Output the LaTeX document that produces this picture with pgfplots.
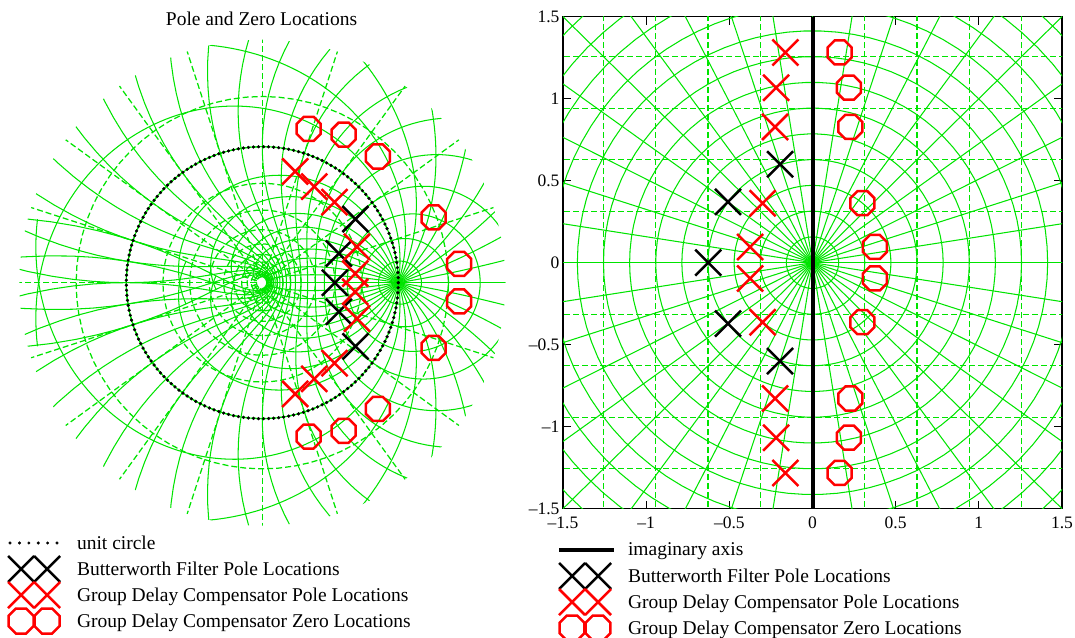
\documentclass[border=0pt]{standalone}
\usepackage{pgfplots}
\pgfplotsset{compat=1.18}
\usepackage{fontspec}
\setmainfont{Liberation Serif}
\definecolor{grn}{RGB}{0,228,0}
\definecolor{rd}{RGB}{255,0,0}
\pgfdeclareplotmark{oct}{%
  \pgfpathmoveto{\pgfpointpolar{22.5}{\pgfplotmarksize}}%
  \pgfpathlineto{\pgfpointpolar{67.5}{\pgfplotmarksize}}%
  \pgfpathlineto{\pgfpointpolar{112.5}{\pgfplotmarksize}}%
  \pgfpathlineto{\pgfpointpolar{157.5}{\pgfplotmarksize}}%
  \pgfpathlineto{\pgfpointpolar{202.5}{\pgfplotmarksize}}%
  \pgfpathlineto{\pgfpointpolar{247.5}{\pgfplotmarksize}}%
  \pgfpathlineto{\pgfpointpolar{292.5}{\pgfplotmarksize}}%
  \pgfpathlineto{\pgfpointpolar{337.5}{\pgfplotmarksize}}%
  \pgfpathclose
  \pgfusepathqstroke}
\tikzset{legfont/.style={font=\fontsize{19.5}{22}\selectfont}}
\pgfplotsset{
  gsolid/.style={grn, line width=1.05pt, forget plot},
  gdash/.style={grn, line width=1.25pt, dash pattern=on 6pt off 3pt, forget plot},
  bx/.style={black, only marks, mark=x, mark size=18.4pt, line width=2.5pt,
    legend image code/.code={\path[draw=none,fill=none] (0pt,-13pt) rectangle (69pt,13pt);
      \draw[black, line width=2.5pt] plot[only marks, mark=x, mark size=18.4pt] coordinates {(13pt,0pt) (39pt,0pt)};}},
  rx/.style={rd, only marks, mark=x, mark size=18.4pt, line width=2.5pt,
    legend image code/.code={\path[draw=none,fill=none] (0pt,-13pt) rectangle (69pt,13pt);
      \draw[rd, line width=2.5pt] plot[only marks, mark=x, mark size=18.4pt] coordinates {(13pt,0pt) (39pt,0pt)};}},
  ro/.style={rd, only marks, mark=oct, mark size=13pt, line width=2.5pt,
    legend image code/.code={\path[draw=none,fill=none] (0pt,-13pt) rectangle (69pt,13pt);
      \draw[rd, line width=2.5pt] plot[only marks, mark=oct, mark size=13.5pt] coordinates {(13pt,0pt) (39pt,0pt)};}},
}
\begin{document}
\begin{tikzpicture}
% ---------------- left panel: green z-plane grid (images of the s-plane grid) ----------
\begin{scope}
\clip (262.3pt,354.3pt) circle (243pt);
\begin{axis}[at={(3.9pt,95.9pt)}, anchor=south west, scale only axis,
  width=516.8pt, height=516.8pt, xmin=-1.9, xmax=1.9, ymin=-1.9, ymax=1.9,
  axis lines=none]
\pgfplotsinvokeforeach{1,...,22}{
  \addplot[gsolid, domain=0:360, samples=181]
   ({exp(#1*pi/20*cos(x))*cos(deg(#1*pi/20*sin(x)))},
    {exp(#1*pi/20*cos(x))*sin(deg(#1*pi/20*sin(x)))});
}
\pgfplotsinvokeforeach{0,9,...,351}{
  \addplot[gsolid, domain=0:3.46, samples=100]
   ({exp(x*cos(#1))*cos(deg(x*sin(#1)))},
    {exp(x*cos(#1))*sin(deg(x*sin(#1)))});
}
\pgfplotsinvokeforeach{-10,...,1}{
  \addplot[gdash, domain=0:360, samples=73]
   ({exp(#1*pi/10)*cos(x)},{exp(#1*pi/10)*sin(x)});
}
\pgfplotsinvokeforeach{0,18,...,342}{
  \addplot[gdash, domain=0.043:1.9, samples=2] ({x*cos(#1)},{x*sin(#1)});
}
\end{axis}
\end{scope}
% ---------------- left panel: unit circle, poles, zeros, legend ----------------
\begin{axis}[at={(3.9pt,95.9pt)}, anchor=south west, scale only axis,
  width=516.8pt, height=516.8pt, xmin=-1.9, xmax=1.9, ymin=-1.9, ymax=1.9,
  axis lines=none, clip=false,
  legend cell align=left,
  legend style={at={(0.008,0.0215)}, anchor=north west, draw=none, fill=none,
    inner sep=0pt, outer sep=0pt, row sep=0pt, column sep=0pt,
    nodes={inner sep=0pt}, legfont}]
\addplot[black, only marks, mark=*, mark size=1.45pt, domain=0:360, samples=170,
  legend image code/.code={\path[draw=none,fill=none] (0pt,-13pt) rectangle (69pt,13pt);
    \foreach \i in {0,...,5} \fill[black] ({2pt+\i*9.4pt},0pt) circle (1.3pt);}]
  ({cos(x)},{sin(x)});
\addlegendentry{unit circle}
\addplot[bx] coordinates {(0.685,0.468) (0.563,0.214) (0.534,0) (0.563,-0.214) (0.685,-0.468)};
\addlegendentry{Butterworth Filter Pole Locations}
\addplot[rx] coordinates {(0.242,0.818) (0.382,0.707) (0.531,0.592) (0.696,0.264) (0.683,0.067)
  (0.683,-0.067) (0.696,-0.264) (0.531,-0.592) (0.382,-0.707) (0.242,-0.818)};
\addlegendentry{Group Delay Compensator Pole Locations}
\addplot[ro] coordinates {(0.341,1.131) (0.598,1.089) (0.850,0.928) (1.260,0.480) (1.448,0.138)
  (1.448,-0.138) (1.260,-0.480) (0.850,-0.928) (0.598,-1.089) (0.341,-1.131)};
\addlegendentry{Group Delay Compensator Zero Locations}
\end{axis}
\node[legfont, anchor=base] at (261.5pt,611.5pt) {Pole and Zero Locations};
% ---------------- right panel: s-plane ----------------
\begin{axis}[at={(563pt,128.3pt)}, anchor=south west, scale only axis,
  width=499pt, height=492pt, xmin=-1.5, xmax=1.5, ymin=-1.5, ymax=1.5,
  xtick={-1.5,-1,-0.5,0,0.5,1,1.5}, ytick={-1.5,-1,-0.5,0,0.5,1,1.5},
  xticklabels={–1.5,–1,–0.5,0,0.5,1,1.5}, yticklabels={–1.5,–1,–0.5,0,0.5,1,1.5},
  tick align=inside, major tick length=8pt,
  every tick/.style={black, line width=1.2pt},
  axis line style={black, line width=1.3pt},
  ticklabel style={font=\fontsize{17.5}{20}\selectfont},
  xticklabel style={yshift=-5pt},
  legend cell align=left,
  legend style={at={(-0.012,-0.0575)}, anchor=north west, draw=none, fill=none,
    inner sep=0pt, outer sep=0pt, row sep=0pt, column sep=0pt,
    nodes={inner sep=0pt}, legfont}]
\pgfplotsinvokeforeach{1,...,14}{
  \addplot[gsolid, domain=0:360, samples=91] ({#1*pi/20*cos(x)},{#1*pi/20*sin(x)});
}
\pgfplotsinvokeforeach{0,9,...,351}{
  \addplot[gsolid, domain=0:2.3, samples=2] ({x*cos(#1)},{x*sin(#1)});
}
\pgfplotsinvokeforeach{-4,...,4}{
  \addplot[gdash, domain=-1.6:1.6, samples=2] ({#1*pi/10},{x});
  \addplot[gdash, domain=-1.6:1.6, samples=2] ({x},{#1*pi/10});
}
\addplot[black, line width=4pt,
  legend image code/.code={\path[draw=none,fill=none] (0pt,-13pt) rectangle (69pt,13pt);
    \draw[black, line width=4pt] (0pt,0pt) -- (55pt,0pt);}]
  coordinates {(0,-1.5) (0,1.5)};
\addlegendentry{imaginary axis}
\addplot[bx] coordinates {(-0.195,0.600) (-0.508,0.371) (-0.627,0) (-0.508,-0.371) (-0.195,-0.600)};
\addlegendentry{Butterworth Filter Pole Locations}
\addplot[rx] coordinates {(-0.163,1.282) (-0.219,1.067) (-0.225,0.828) (-0.300,0.363) (-0.375,0.096)
  (-0.375,-0.096) (-0.300,-0.363) (-0.225,-0.828) (-0.219,-1.067) (-0.163,-1.282)};
\addlegendentry{Group Delay Compensator Pole Locations}
\addplot[ro] coordinates {(0.163,1.282) (0.219,1.067) (0.227,0.828) (0.300,0.363) (0.375,0.096)
  (0.375,-0.096) (0.300,-0.363) (0.227,-0.828) (0.219,-1.067) (0.163,-1.282)};
\addlegendentry{Group Delay Compensator Zero Locations}
\end{axis}
\pgfresetboundingbox
\useasboundingbox (0pt,0pt) rectangle (1075pt,637pt);
\end{tikzpicture}
\end{document}
